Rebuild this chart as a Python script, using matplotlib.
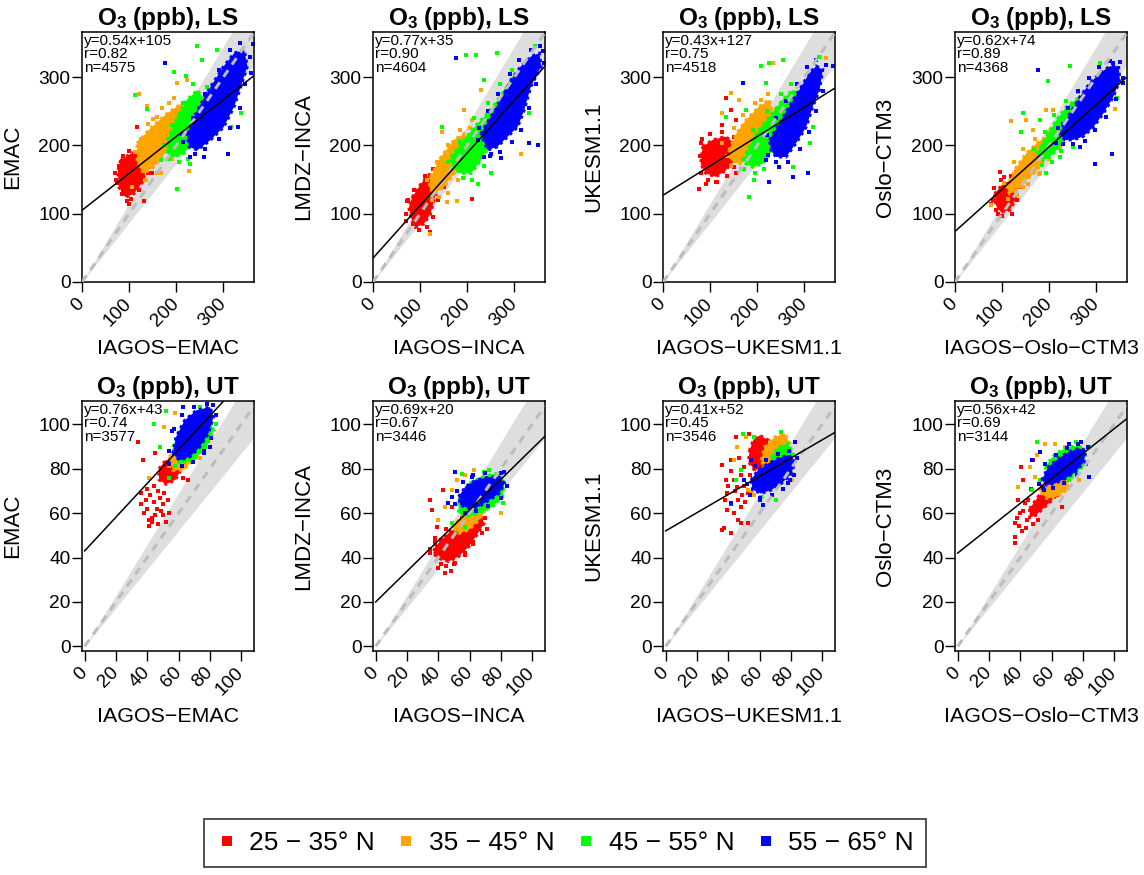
import matplotlib
matplotlib.use('Agg')
import matplotlib.pyplot as plt
from matplotlib.lines import Line2D
import numpy as np

plt.rcParams['font.family'] = ['Liberation Sans', 'DejaVu Sans']
plt.rcParams['mathtext.fontset'] = 'custom'
plt.rcParams['mathtext.rm'] = 'Liberation Sans'
plt.rcParams['mathtext.bf'] = 'Liberation Sans:bold'

# panel labels
models = ['EMAC', 'LMDZ\u2212INCA', 'UKESM1.1', 'Oslo\u2212CTM3']
xnames = ['IAGOS\u2212EMAC', 'IAGOS\u2212INCA', 'IAGOS\u2212UKESM1.1', 'IAGOS\u2212Oslo\u2212CTM3']
bands = ['25 \u2212 35\u00b0 N', '35 \u2212 45\u00b0 N', '45 \u2212 55\u00b0 N', '55 \u2212 65\u00b0 N']
colors = ['#FF0000', '#FFA500', '#00FF00', '#0000FF']

# regression stats (LS row, UT row)
ls_slope = [0.54, 0.77, 0.43, 0.62]
ls_icpt = [105, 35, 127, 74]
ls_r = [0.82, 0.90, 0.75, 0.89]
ls_n = [4575, 4604, 4518, 4368]
ut_slope = [0.76, 0.69, 0.41, 0.56]
ut_icpt = [43, 20, 52, 42]
ut_r = [0.74, 0.67, 0.45, 0.69]
ut_n = [3577, 3446, 3546, 3144]

# dense cores of each latitude cloud (outline), red/orange/green/blue
core_ls_emac = [
    [(82, 178), (106, 189), (131, 187), (138, 168), (128, 146), (110, 129), (92, 124), (78, 139), (76, 163)],
    [(117, 203), (145, 225), (181, 247), (213, 262), (220, 244), (206, 217), (181, 193), (152, 168), (131, 159), (117, 173)],
    [(181, 208), (202, 242), (223, 267), (245, 281), (259, 267), (252, 237), (238, 208), (216, 188), (195, 183), (181, 188)],
    [(223, 217), (245, 252), (273, 286), (301, 316), (323, 335), (344, 340), (351, 316), (337, 286), (323, 257), (301, 227), (273, 208), (245, 193), (227, 198)],
]
# scattered points around each cloud
pts_ls_emac = [
    [(96, 119), (117, 227), (85, 129), (131, 119), (71, 159), (142, 178), (99, 114), (149, 159),
     (72, 150), (78, 170), (88, 185), (100, 192), (120, 192), (137, 180), (140, 160), (120, 135), (104, 121), (86, 132), (75, 145)],
    [(121, 275), (138, 257), (223, 296), (227, 163), (106, 139), (167, 159), (202, 291), (160, 242),
     (112, 190), (125, 210), (140, 232), (170, 255), (195, 270), (230, 255), (215, 205), (190, 180), (160, 160), (135, 150), (150, 238), (185, 262)],
    [(245, 345), (195, 308), (287, 340), (113, 274), (138, 254), (202, 136), (230, 173), (316, 227), (337, 247), (255, 325), (167, 178), (220, 301),
     (175, 200), (190, 230), (215, 262), (235, 290), (265, 285), (262, 250), (245, 200), (225, 180), (205, 175), (185, 180)],
    [(177, 321), (309, 188), (259, 183), (358, 306), (330, 227), (230, 183), (362, 348), (213, 217),
     (215, 205), (235, 240), (260, 275), (290, 310), (315, 340), (335, 350), (356, 330), (345, 290), (335, 255), (315, 225), (290, 210), (260, 195), (240, 188)],
]
core_ls_inca = [
    [(83, 124), (104, 146), (122, 159), (136, 154), (133, 129), (122, 100), (108, 85), (90, 80), (80, 95), (76, 109)],
    [(122, 154), (144, 183), (172, 208), (193, 217), (208, 208), (193, 183), (172, 159), (151, 139), (129, 129), (119, 139)],
    [(165, 183), (193, 208), (222, 232), (250, 252), (279, 281), (300, 301), (314, 291), (300, 262), (279, 232), (250, 203), (229, 178), (208, 159), (186, 159), (168, 168)],
    [(229, 217), (250, 242), (271, 267), (293, 296), (314, 316), (335, 330), (353, 335), (357, 316), (335, 286), (321, 252), (307, 227), (286, 213), (264, 198), (243, 193)],
]
pts_ls_inca = [
    [(69, 90), (122, 73), (144, 168), (211, 122), (94, 100), (151, 139), (72, 119),
     (70, 100), (75, 120), (88, 135), (110, 155), (128, 165), (140, 145), (138, 120), (128, 95), (115, 80), (98, 76), (84, 85)],
    [(121, 71), (179, 119), (147, 220), (229, 281), (193, 252), (314, 188), (211, 237), (158, 117),
     (115, 150), (135, 175), (160, 200), (185, 222), (205, 225), (215, 200), (200, 175), (180, 150), (160, 130), (140, 125), (125, 120)],
    [(197, 333), (218, 333), (236, 296), (264, 335), (343, 345), (250, 159), (222, 144), (332, 247), (179, 173), (147, 227),
     (160, 175), (185, 205), (215, 240), (245, 262), (270, 290), (295, 310), (320, 300), (310, 265), (290, 235), (260, 200), (235, 170), (210, 150), (190, 152)],
    [(176, 328), (350, 200), (332, 203), (236, 183), (250, 188), (222, 208), (360, 338), (271, 181),
     (225, 225), (245, 250), (265, 275), (290, 305), (310, 325), (335, 340), (355, 345), (362, 320), (345, 290), (330, 255), (315, 222), (295, 205), (270, 190), (248, 185)],
]
core_ls_ukesm = [
    [(84, 198), (105, 208), (133, 213), (151, 203), (148, 178), (133, 163), (112, 154), (91, 159), (80, 173)],
    [(140, 193), (155, 217), (176, 237), (204, 257), (226, 267), (233, 247), (218, 222), (204, 198), (183, 178), (162, 173), (144, 178)],
    [(176, 188), (197, 217), (226, 242), (254, 267), (275, 281), (289, 271), (275, 242), (254, 217), (233, 193), (211, 173), (190, 168), (176, 173)],
    [(226, 208), (247, 232), (268, 257), (289, 281), (311, 306), (325, 316), (339, 311), (332, 281), (318, 257), (304, 227), (282, 203), (261, 183), (240, 183), (229, 193)],
]
pts_ls_ukesm = [
    [(77, 136), (80, 203), (133, 269), (144, 252), (126, 230), (91, 144), (162, 267), (112, 146), (155, 159), (155, 237),
     (78, 185), (82, 210), (100, 216), (125, 220), (150, 212), (158, 190), (150, 168), (135, 155), (115, 146), (95, 150), (80, 160)],
    [(144, 276), (162, 267), (126, 247), (233, 321), (208, 267), (126, 203), (247, 232), (346, 328),
     (135, 185), (150, 225), (170, 245), (195, 262), (222, 275), (240, 252), (230, 225), (212, 195), (190, 172), (165, 165), (145, 170)],
    [(226, 321), (254, 325), (208, 316), (176, 252), (194, 149), (183, 124), (318, 227), (311, 203), (275, 168), (332, 330), (218, 291), (133, 242),
     (170, 180), (190, 222), (220, 250), (250, 275), (272, 290), (295, 275), (282, 235), (260, 210), (240, 186), (215, 165), (195, 160), (172, 165)],
    [(169, 291), (226, 146), (275, 154), (307, 159), (360, 316), (247, 168), (218, 178), (332, 301),
     (220, 215), (240, 240), (262, 265), (285, 290), (305, 315), (325, 325), (345, 318), (340, 280), (325, 250), (310, 220), (290, 195), (265, 175), (240, 176), (222, 186)],
]
core_ls_oslo = [
    [(84, 129), (102, 144), (119, 149), (130, 139), (127, 119), (116, 105), (98, 102), (87, 112)],
    [(109, 139), (130, 168), (151, 188), (173, 203), (194, 213), (205, 203), (194, 183), (173, 163), (151, 149), (130, 134), (116, 129)],
    [(173, 188), (194, 213), (215, 237), (237, 257), (265, 271), (279, 267), (265, 242), (244, 217), (222, 198), (201, 183), (187, 178)],
    [(222, 217), (244, 247), (265, 271), (286, 291), (308, 306), (329, 316), (347, 316), (350, 296), (336, 271), (315, 247), (294, 227), (272, 213), (251, 208), (233, 208)],
]
pts_ls_oslo = [
    [(95, 161), (105, 154), (77, 114), (130, 161), (137, 139), (91, 100), (141, 149),
     (80, 120), (82, 138), (98, 150), (118, 155), (134, 145), (132, 120), (120, 100), (100, 96), (86, 106)],
    [(119, 235), (151, 237), (166, 222), (194, 252), (208, 252), (222, 198), (77, 112), (180, 159), (340, 254), (144, 139),
     (104, 145), (125, 175), (145, 195), (170, 210), (195, 220), (210, 208), (200, 180), (178, 158), (155, 143), (132, 128), (112, 122)],
    [(144, 247), (141, 220), (198, 294), (244, 316), (308, 321), (343, 269), (222, 183), (180, 237), (194, 159), (251, 198),
     (168, 195), (190, 220), (210, 245), (235, 265), (262, 278), (285, 272), (270, 238), (250, 212), (226, 192), (205, 176), (185, 172)],
    [(176, 311), (297, 173), (333, 188), (215, 203), (357, 291), (336, 321), (265, 198), (230, 232),
     (218, 225), (240, 255), (262, 280), (285, 298), (305, 315), (328, 323), (350, 322), (356, 298), (342, 268), (320, 242), (298, 222), (275, 206), (250, 202), (230, 202)],
]

core_ut_emac = [
    [(47.5, 80), (52, 84), (58, 84), (62, 80), (58, 75), (52, 73), (47.5, 75)],
    [(54.1, 85.3), (62.8, 92.8), (71.4, 98.8), (75.8, 95.8), (71.4, 85.3), (62.8, 79.3), (56.3, 79.3)],
    [(56.3, 89.8), (62.8, 100.3), (71.4, 104.8), (80.1, 103.3), (82.3, 97.3), (77.9, 89.8), (69.3, 83.8), (60.6, 82.3)],
    [(56.3, 86.8), (58.4, 94.3), (63.9, 101.8), (71.4, 106.3), (80.1, 107.8), (82.3, 103.3), (79.0, 95.8), (73.6, 89.8), (67.1, 85.3), (60.6, 83.8)],
]
pts_ut_emac = [
    [(41, 54), (52, 56), (34, 92), (37, 84), (63, 76), (66, 75), (45, 87), (36, 69), (54, 60), (48, 67),
     (43, 58), (46, 62), (40, 62), (44, 65), (50, 59), (38, 60), (42, 68), (47, 70), (44, 72), (50, 64),
     (41, 57), (47, 55), (53, 66), (39, 66), (45, 59), (49, 61), (43, 56), (51, 69), (36, 64), (40, 71)],
    [(51, 99), (58, 105), (74, 85), (69, 85), (41, 76), (78, 102), (54, 81)],
    [(44, 100), (52, 106), (74, 108), (84, 100), (54, 76), (58, 81), (79, 94), (48, 90)],
    [(82, 108.5), (76, 88), (54, 82), (63, 108), (80, 90), (56, 97),
     (54, 88), (57, 98), (62, 104), (70, 108), (78, 109), (84, 104), (81, 94), (76, 87), (69, 83), (62, 81)],
]
core_ut_inca = [
    [(37.9, 44.9), (46.5, 50.9), (55.2, 55.4), (61.7, 58.4), (67.1, 59.9), (69.3, 55.4), (63.9, 49.4), (59.5, 44.9), (53.0, 40.4), (46.5, 38.2), (40.0, 39.7), (36.8, 41.9)],
    [(48.7, 53.9), (55.2, 58.4), (61.7, 62.9), (68.2, 64.4), (70.3, 61.4), (66.0, 56.9), (59.5, 52.4), (53.0, 50.9)],
    [(53, 65.9), (59.5, 73.4), (68.2, 76.3), (76.8, 77.8), (82.3, 74.9), (81.2, 67.4), (74.7, 62.9), (66.0, 59.9), (57.4, 58.4), (53.0, 59.9)],
    [(53, 67.4), (57.4, 71.9), (63.9, 74.9), (72.5, 76.3), (79.0, 76.3), (82.3, 73.4), (79.0, 68.9), (72.5, 65.9), (66.0, 62.9), (59.5, 62.1), (54.1, 63.6)],
]
pts_ut_inca = [
    [(34.6, 65.9), (35.7, 61.4), (39, 53.9), (43.3, 70.4), (44.4, 32.9), (50.9, 37.4), (68.2, 50.9), (48.7, 62.9), (40, 35.2),
     (57.4, 41.9), (42, 48), (38, 47), (45, 36), (62, 47), (66, 53), (35, 44), (48, 34),
     (35, 42), (38, 49), (45, 53), (55, 58), (63, 61), (70, 58), (71, 53), (62, 46), (57, 41), (50, 37), (42, 37)],
    [(50.9, 78.6), (57.4, 77.1), (51.9, 74.9), (62.8, 79.3), (44.4, 62.9), (80.1, 59.9), (48.7, 70.4), (40, 56.9)],
    [(55.2, 77.8), (69.3, 78.6), (81.2, 64.4), (48.7, 55.4), (72.5, 79.3), (57.4, 53.9)],
    [(50.9, 78.6), (48.7, 67.4), (82.3, 78.6), (61.7, 76.3), (46.5, 64.4), (74.7, 74.9),
     (52, 70), (56, 74), (62, 77), (70, 78), (80, 78), (84, 72), (80, 67), (72, 63), (64, 61), (57, 60), (51, 64)],
]
core_ut_ukesm = [
    [(53.5, 88), (56, 93), (60, 95), (65.4, 93), (66.5, 86), (62, 81), (57, 79), (53, 83)],
    [(61.0, 83.8), (63.2, 89.8), (69.7, 94.3), (76.2, 95.8), (79.4, 91.3), (76.2, 85.3), (69.7, 80.8), (64.3, 79.3)],
    [(67.5, 85.3), (71.9, 89.8), (78.4, 91.3), (81.6, 86.8), (78.4, 80.8), (71.9, 77.8), (67.5, 79.3)],
    [(54.5, 74.9), (58.9, 79.3), (65.4, 82.3), (71.9, 84.6), (78.4, 86.1), (82.7, 83.8), (80.5, 77.8), (74.0, 73.4), (67.5, 70.4), (61.0, 68.9), (55.6, 70.4)],
]
pts_ut_ukesm = [
    [(36.1, 52.4), (37.2, 53.1), (41.6, 51.2), (44.8, 94.3), (41.6, 83.8), (36.1, 81.6), (52.4, 55.4), (48.1, 55.4),
     (38.3, 74.9), (53.5, 95.8), (45.9, 71.9), (39.4, 61.4), (43.7, 59.9), (48.1, 62.9), (52.4, 68.9), (56.7, 74.9),
     (39.4, 68.9), (43.7, 74.9), (50.2, 80.8), (46, 66), (42, 64), (50, 72), (44, 70), (48, 77), (40, 72), (46, 57),
     (51, 65), (54, 77), (42, 79), (47, 85), (38, 66), (49, 68)],
    [(51.3, 94.3), (43.7, 83.8), (52.4, 70.4), (56.7, 68.1), (58.9, 70.4), (74, 96.6), (80.5, 74.9), (54.5, 68.9), (45.9, 89.8), (55, 69.5), (57, 71.5)],
    [(49.1, 95.8), (56.7, 94.3), (48.1, 79.3), (44.8, 74.9), (61, 67.4), (70.8, 65.9), (80.5, 77.8), (74, 96.6), (61, 77.8)],
    [(54.5, 83.8), (60, 65.9), (62.1, 63.6), (82.7, 92.1), (78.4, 73.4), (50.2, 74.9), (41.6, 64.4), (79.4, 74.9),
     (52, 73), (57, 81), (64, 84), (72, 86.5), (79, 88), (84, 85), (82, 77), (75, 71), (68, 68), (60, 67), (54, 68)],
]
core_ut_oslo = [
    [(46, 62), (52, 68), (58, 70), (62, 67), (56, 63), (50, 59), (46, 58)],
    [(51.5, 70.4), (56.9, 74.9), (64.5, 76.3), (71.0, 74.9), (69.9, 70.4), (63.4, 67.4), (56.9, 66.6)],
    [(55.8, 80.8), (62.3, 86.8), (71.0, 89.8), (78.6, 90.6), (81.8, 86.8), (79.7, 80.8), (73.2, 76.3), (65.6, 74.9), (59.1, 75.6)],
    [(53.7, 74.9), (58.0, 80.8), (64.5, 84.6), (71.0, 87.6), (77.5, 89.1), (81.8, 88.3), (80.7, 83.1), (75.3, 78.6), (68.8, 75.6), (62.3, 73.4), (56.9, 72.6)],
]
pts_ut_oslo = [
    [(36.4, 55.4), (36.8, 49.4), (36.8, 46.7), (40.7, 80.8), (41.8, 74.9), (48.3, 83.8), (66.7, 62.9), (43.9, 53.1),
     (51.5, 56.9), (38.5, 65.9), (42.9, 64.4), (40, 60), (38, 58), (44, 57), (48, 55), (42, 61), (45, 66), (47, 71),
     (54, 72), (60, 71.5), (64, 68), (39, 54), (41, 52)],
    [(50.4, 86.1), (55.8, 91.3), (62.3, 91.3), (38.5, 71.9), (49.4, 76.3), (68.8, 89.8), (77.5, 74.9), (46.1, 80.8)],
    [(50.4, 92.1), (75.3, 92.1), (84, 89.8), (52.6, 74.9), (47.2, 70.4), (71, 74.9), (80.7, 82.3)],
    [(52.6, 87.6), (47.2, 83.8), (71, 91.3), (84, 76.3), (78.6, 92.1), (54.8, 71.1),
     (52, 73), (56, 82), (63, 86), (70, 89.5), (77, 91), (83, 90), (82, 82), (76, 77), (68, 73.5), (61, 71.5), (55, 70.5)],
]

ls_cores = [core_ls_emac, core_ls_inca, core_ls_ukesm, core_ls_oslo]
ls_pts = [pts_ls_emac, pts_ls_inca, pts_ls_ukesm, pts_ls_oslo]
ut_cores = [core_ut_emac, core_ut_inca, core_ut_ukesm, core_ut_oslo]
ut_pts = [pts_ut_emac, pts_ut_inca, pts_ut_ukesm, pts_ut_oslo]

W, H = 1144, 875
fig = plt.figure(figsize=(W / 100, H / 100), dpi=100)
col_left = [82, 373, 663, 955]
row_top = [32, 401]
bw, bh = 172, 250


def draw_panel(ax, cores, pts, slope, icpt, r, n, xlim, ylim, ticks, ylab, xlab, layer):
    xx = np.array([0.0, xlim[1]])
    # band around the 1:1 line
    ax.fill_between(xx, xx / 1.15, xx * 1.15, color='#dedede', lw=0, zorder=1)
    for c, core, p in zip(colors, cores, pts):
        cx, cy = zip(*core)
        ax.fill(cx, cy, color=c, lw=2.2, ec=c, ls=(0, (1, 1.2)), zorder=2)
        px, py = zip(*p)
        ax.plot(px, py, 's', color=c, ms=2.3, mew=0, zorder=2)
    ax.plot(xx, xx, color='#bdbdbd', lw=2.2, dashes=(2.6, 2.2), zorder=3)
    ax.plot(xx, slope * xx + icpt, color='k', lw=1.1, zorder=4)
    ax.set_xlim(xlim)
    ax.set_ylim(ylim)
    ax.set_xticks(ticks)
    ax.set_yticks(ticks)
    ax.tick_params(direction='out', length=7.3, width=1.0, labelsize=13.8)
    ax.tick_params(axis='y', pad=1)
    ax.tick_params(axis='x', pad=6.5)
    for lab in ax.get_xticklabels():
        lab.set_rotation(45)
        lab.set_ha('right')
        lab.set_va('center')
        lab.set_rotation_mode('anchor')
    for s in ax.spines.values():
        s.set_linewidth(1.1)
    ax.text(0.012, 0.992, f'y={slope}x+{icpt}\nr={r:.2f}\nn={n}', transform=ax.transAxes,
            ha='left', va='top', fontsize=11, linespacing=0.95, zorder=5)
    ax.set_title(r'$\mathbf{O_3}$ (ppb), ' + layer, fontsize=17.5, fontweight='bold', pad=5)
    ax.set_ylabel(ylab, fontsize=16)
    ax.yaxis.set_label_coords(-69 / bw, 0.5)
    ax.yaxis.label.set_va('center')
    ax.set_xlabel(xlab, fontsize=15.4)
    ax.xaxis.set_label_coords(0.5, -66 / bh)
    ax.xaxis.label.set_va('center')


for j in range(4):
    ax = fig.add_axes([col_left[j] / W, 1 - (row_top[0] + bh) / H, bw / W, bh / H])
    draw_panel(ax, ls_cores[j], ls_pts[j], ls_slope[j], ls_icpt[j], ls_r[j], ls_n[j],
               (0, 365), (0, 366), [0, 100, 200, 300], models[j], xnames[j], 'LS')
    ax = fig.add_axes([col_left[j] / W, 1 - (row_top[1] + bh) / H, bw / W, bh / H])
    draw_panel(ax, ut_cores[j], ut_pts[j], ut_slope[j], ut_icpt[j], ut_r[j], ut_n[j],
               (-1.7, 108.2), (-2.1, 110.5), [0, 20, 40, 60, 80, 100], models[j], xnames[j], 'UT')

handles = [Line2D([], [], ls='none', marker='s', ms=7.5, mew=0, color=c) for c in colors]
leg = fig.legend(handles, bands, loc='center', bbox_to_anchor=(565 / W, 1 - 843 / H), ncol=4,
                 frameon=True, fancybox=False, edgecolor='k', fontsize=19, handlelength=0.8,
                 handletextpad=0.45, columnspacing=0.8, borderpad=0.45, borderaxespad=0)
leg.get_frame().set_linewidth(1.2)

fig.savefig('out.png', dpi=100)
